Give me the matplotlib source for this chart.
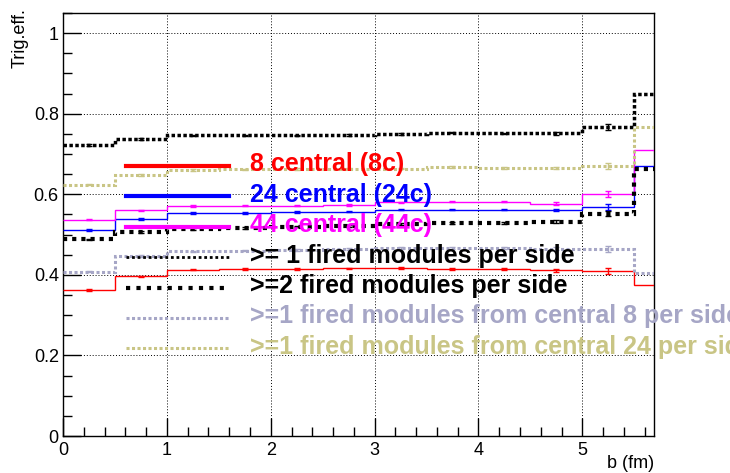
import numpy as np
import matplotlib
matplotlib.use("Agg")
import matplotlib.pyplot as plt
from matplotlib.ticker import MultipleLocator

plt.rcParams['font.family'] = ['Liberation Sans', 'DejaVu Sans']

# ---- data ----
edges = [0.0, 0.5, 1.0, 1.5, 2.0, 2.5, 3.0, 3.5, 4.0, 4.5, 5.0, 5.5, 6.0]
eff_8c = [0.362, 0.396, 0.413, 0.414, 0.414, 0.416, 0.417, 0.415, 0.414, 0.411, 0.409, 0.376]
eff_24c = [0.512, 0.539, 0.553, 0.554, 0.556, 0.557, 0.562, 0.562, 0.562, 0.561, 0.568, 0.671]
eff_44c = [0.537, 0.560, 0.571, 0.572, 0.572, 0.574, 0.580, 0.582, 0.582, 0.577, 0.600, 0.709]
eff_ge1 = [0.722, 0.737, 0.746, 0.746, 0.746, 0.747, 0.749, 0.753, 0.751, 0.751, 0.767, 0.848]
eff_ge2 = [0.488, 0.507, 0.514, 0.517, 0.520, 0.522, 0.526, 0.529, 0.528, 0.532, 0.552, 0.662]
eff_ge1_c8 = [0.408, 0.447, 0.458, 0.460, 0.462, 0.464, 0.466, 0.466, 0.466, 0.465, 0.464, 0.404]
eff_ge1_c24 = [0.624, 0.648, 0.660, 0.662, 0.663, 0.664, 0.664, 0.668, 0.666, 0.665, 0.671, 0.766]
err_small = [0.002, 0.002, 0.002, 0.002, 0.002, 0.002, 0.002, 0.002, 0.002, 0.003, 0.007, 0.01]

labels = ["8 central (8c)", "24 central (24c)", "44 central (44c)",
          ">= 1 fired modules per side", ">=2 fired modules per side",
          ">=1 fired modules from central 8 per side",
          ">=1 fired modules from central 24 per side"]

xticks = [0, 1, 2, 3, 4, 5]
yticks = [0, 0.2, 0.4, 0.6, 0.8, 1.0]
ytick_labels = ["0", "0.2", "0.4", "0.6", "0.8", "1"]

# ---- styles ----
series = [
    (eff_8c, dict(color='#ff0000', lw=1.0, ls='-'), dict(color='#ff0000', lw=3.0, ls='-'), '#ff0000'),
    (eff_24c, dict(color='#0000ff', lw=1.0, ls='-'), dict(color='#0000ff', lw=3.0, ls='-'), '#0000ff'),
    (eff_44c, dict(color='#ff00ff', lw=1.0, ls='-'), dict(color='#ff00ff', lw=3.0, ls='-'), '#ff00ff'),
    (eff_ge1, dict(color='#000000', lw=2.5, ls=(0, (1, 0.7))), dict(color='#000000', lw=2.0, ls=(0, (1, 1))), '#000000'),
    (eff_ge2, dict(color='#000000', lw=3.0, ls=(0, (1, 1.2))), dict(color='#000000', lw=3.0, ls=(0, (1, 1.5))), '#000000'),
    (eff_ge1_c8, dict(color='#a6a6c6', lw=2.2, ls=(0, (1, 0.8))), dict(color='#a6a6c6', lw=2.2, ls=(0, (1, 0.8))), '#a6a6c6'),
    (eff_ge1_c24, dict(color='#c9c585', lw=2.2, ls=(0, (1, 0.8))), dict(color='#c9c585', lw=2.2, ls=(0, (1, 0.8))), '#c9c585'),
]

W, H = 730, 473
fig = plt.figure(figsize=(W / 100, H / 100), dpi=100)
L, R, T, B = 63, 654, 13, 436
ax = fig.add_axes([L / W, 1 - B / H, (R - L) / W, (B - T) / H])

centers = 0.5 * (np.array(edges[:-1]) + np.array(edges[1:]))
for vals, pst, lst, tcol in series:
    ax.stairs(vals, edges, baseline=None, color=pst['color'], lw=pst['lw'], ls=pst['ls'], zorder=3)
    ax.errorbar(centers, vals, yerr=err_small, fmt='none', ecolor=pst['color'],
                elinewidth=1.0, capsize=2, capthick=1.0, zorder=3)

ax.set_xlim(0, 5.69)
ax.set_ylim(0, 1.05)
ax.set_xticks(xticks)
ax.set_xticklabels([str(v) for v in xticks])
ax.set_yticks(yticks)
ax.set_yticklabels(ytick_labels)
ax.xaxis.set_minor_locator(MultipleLocator(0.2))
ax.yaxis.set_minor_locator(MultipleLocator(0.05))
ax.tick_params(which='major', direction='in', length=13, width=1, labelsize=13,
               top=False, right=False)
ax.tick_params(which='minor', direction='in', length=6.5, width=1, top=False, right=False)
ax.tick_params(axis='x', pad=4)
ax.tick_params(axis='y', pad=3)
ax.grid(True, which='major', color='black', ls=(0, (1, 2)), lw=0.7, zorder=1)
for s in ax.spines.values():
    s.set_linewidth(1.0)

# legend (manual, ROOT-like, no frame)
def ax_x(px):
    return (px - L) / (R - L)

def ax_y(py):
    return (B - py) / (B - T)

leg_y0, leg_dy = 165.7, 30.45
for i, (vals, pst, lst, tcol) in enumerate(series):
    yy = ax_y(leg_y0 + i * leg_dy)
    ax.plot([ax_x(126), ax_x(229)], [yy, yy], transform=ax.transAxes, clip_on=False,
            color=lst['color'], lw=lst['lw'], ls=lst['ls'], zorder=5)
    ax.text(ax_x(250), ax_y(leg_y0 - 1.5 + i * leg_dy), labels[i], transform=ax.transAxes,
            color=tcol, fontsize=18, fontweight='bold', ha='left', va='center',
            clip_on=False, zorder=6)

fig.text(20 / W, 1 - 8 / H, "Trig.eff.", rotation=90, ha='center', va='top', fontsize=13)
fig.text(R / W, 1 - 463 / H, "b (fm)", ha='right', va='center', fontsize=13)

fig.savefig("out.png", dpi=100)
